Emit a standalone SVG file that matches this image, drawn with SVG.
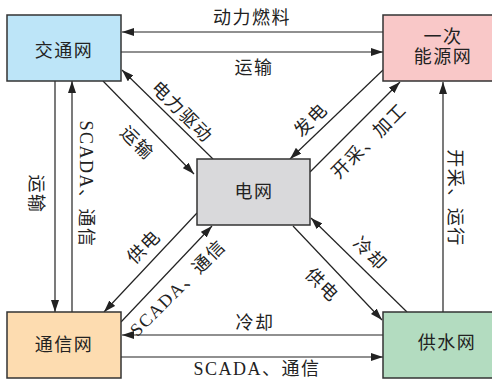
<svg xmlns="http://www.w3.org/2000/svg" width="492" height="380" viewBox="0 0 492 380">
<style>
.box{stroke:#333;stroke-width:1.5}
.t{font-family:"Liberation Serif","Noto Sans CJK SC",serif;font-size:18px;fill:#222;text-anchor:middle;dominant-baseline:central;letter-spacing:1.5px}
.c{fill:none;stroke:#222;stroke-width:1.2;marker-end:url(#ah)}
</style>
<defs>
<marker id="ah" markerUnits="userSpaceOnUse" markerWidth="12" markerHeight="8" refX="12" refY="4" orient="auto">
<path d="M0,0 L12,4 L0,8 Z" fill="#222"/>
</marker>
</defs>
<rect width="492" height="380" fill="#fff"/>
<g id="connectors">
<path class="c" d="M383,32 L122,32"/>
<path class="c" d="M121,52 L383,52"/>
<path class="c" d="M55,81 L55,312"/>
<path class="c" d="M72,312 L72,81"/>
<path class="c" d="M103,81 L194,174"/>
<path class="c" d="M213,159 L122,70"/>
<path class="c" d="M383,70 L290,159"/>
<path class="c" d="M310,172 L400,82"/>
<path class="c" d="M443,312 L443,82"/>
<path class="c" d="M197,213 L104,312"/>
<path class="c" d="M121,322 L212,226"/>
<path class="c" d="M293,226 L382,320"/>
<path class="c" d="M407,312 L311,218"/>
<path class="c" d="M383,335 L122,335"/>
<path class="c" d="M121,357 L383,357"/>
</g>
<g id="labels">
<text class="t" x="252" y="18">动力燃料</text>
<text class="t" x="254" y="68">运输</text>
<text class="t" transform="translate(36,194) rotate(90)">运输</text>
<text class="t" transform="translate(86,184) rotate(90)">SCADA、通信</text>
<text class="t" transform="translate(455,198) rotate(90)">开采、运行</text>
<text class="t" transform="translate(137,143) rotate(45)">运输</text>
<text class="t" transform="translate(182,112) rotate(45)">电力驱动</text>
<text class="t" transform="translate(311,120) rotate(-45)">发电</text>
<text class="t" transform="translate(369,141) rotate(-45)">开采、加工</text>
<text class="t" transform="translate(144,247) rotate(-45)">供电</text>
<text class="t" transform="translate(178,288) rotate(-45)">SCADA、通信</text>
<text class="t" transform="translate(370,254) rotate(45)">冷却</text>
<text class="t" transform="translate(322,285) rotate(45)">供电</text>
<text class="t" x="255" y="323">冷却</text>
<text class="t" x="257" y="369">SCADA、通信</text>
</g>
<g id="jiaotong">
<rect class="box" x="7" y="15" width="114" height="66" fill="#bde5f8"/>
<text class="t" x="64" y="51">交通网</text>
</g>
<g id="nengyuan">
<rect class="box" x="383" y="15" width="114" height="66" fill="#f9c8c8"/>
<text class="t" x="443" y="37">一次</text>
<text class="t" x="443" y="57">能源网</text>
</g>
<g id="dianwang">
<rect class="box" x="197" y="159" width="113" height="66" fill="#d9d9db"/>
<text class="t" x="254" y="192">电网</text>
</g>
<g id="tongxin">
<rect class="box" x="7" y="312" width="114" height="66" fill="#fddcb0"/>
<text class="t" x="64" y="345">通信网</text>
</g>
<g id="gongshui">
<rect class="box" x="383" y="312" width="114" height="66" fill="#b3dcc0"/>
<text class="t" x="447" y="343">供水网</text>
</g>
</svg>
